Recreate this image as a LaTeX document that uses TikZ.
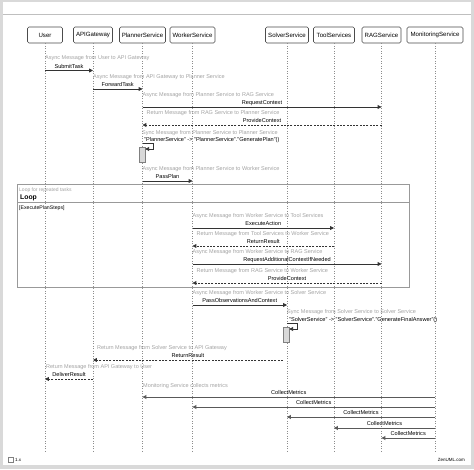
\documentclass[tikz,border=0pt]{standalone}
\usepackage{fontspec}
\setmainfont{Liberation Sans}
\usetikzlibrary{arrows.meta,calc}
\definecolor{cmtgray}{HTML}{A3A3A3}
\tikzset{
 part/.style={draw=black!70, rounded corners=1.5pt, line width=0.6pt, minimum height=16pt, inner xsep=1pt, font=\fontsize{6.1}{7}\selectfont},
 life/.style={draw=black!45, line width=0.5pt, dash pattern=on 1pt off 1.5pt},
 amsg/.style={draw=black!80, line width=0.75pt, -{Triangle[length=3.8pt,width=3.8pt]}},
 rmsg/.style={amsg, dash pattern=on 2pt off 1.3pt},
 cmsg/.style={amsg, draw=black!65, line width=0.9pt},
 lbl/.style={font=\fontsize{5.6}{6}\selectfont, anchor=base, inner sep=0pt, yshift=2.5pt},
 slbl/.style={font=\fontsize{5.6}{6}\selectfont, anchor=base west, inner sep=0pt},
 cmt/.style={font=\fontsize{5.5}{6}\selectfont, text=cmtgray, anchor=base west, inner sep=0pt},
 act/.style={draw=black!50, fill=black!15, inner sep=0pt, minimum width=6pt, minimum height=15pt},
}
\newcommand\seqmsg[9]{%
  \draw[#2] (#3 |- 0,#5) -- node[lbl] (l#1) {#6} (#4 |- 0,#5);
  \node[cmt] (c#1) at ([xshift=#9]#7 |- 0,#5-11) {#8};}
\begin{document}
\begin{tikzpicture}[x=1pt,y=-1pt]
\useasboundingbox (0,0) rectangle (474,469);
\fill[black!15] (0,0) rectangle (474,469);
\fill[white] (3,2) rectangle (471,465);
\draw[black!25, line width=0.5pt] (3,14) -- (471,14);

% loop frame
\draw[black!40, line width=0.5pt] (17,184) rectangle (409,287);
\draw[black!40, line width=0.5pt] (17,202) -- (409,202);
\node[cmt, font=\fontsize{5}{6}\selectfont] (lpc) at (19,191) {Loop for repeated tasks};
\node[slbl, font=\fontsize{6.8}{8}\selectfont\bfseries] (lpt) at (20,199.5) {Loop};
\node[slbl, font=\fontsize{5.2}{6}\selectfont] (lpg) at (19,209) {[ExecutePlanSteps]};

% participants
\node[part, minimum width=35pt] (u) at (45,35) {User};
\node[part, minimum width=39pt] (api) at (93,35) {APIGateway};
\node[part, minimum width=46pt] (pl) at (142.5,35) {PlannerService};
\node[part, minimum width=45pt] (wk) at (192.5,35) {WorkerService};
\node[part, minimum width=43pt] (sv) at (287,35) {SolverService};
\node[part, minimum width=41pt] (tl) at (334,35) {ToolServices};
\node[part, minimum width=39pt] (rag) at (381.5,35) {RAGService};
\node[part, minimum width=56pt] (mon) at (435,35) {MonitoringService};
\foreach \p in {u,api,pl,wk,sv,tl,rag,mon}
  \draw[life] (\p.south) -- (\p |- 0,453);

% messages
\seqmsg{1}{amsg}{u}{api}{70.5}{SubmitTask}{u}{Async Message from User to API Gateway}{0pt}
\seqmsg{2}{amsg}{api}{pl}{89}{ForwardTask}{api}{Async Message from API Gateway to Planner Service}{0pt}
\seqmsg{3}{amsg}{pl}{rag}{107}{RequestContext}{pl}{Async Message from Planner Service to RAG Service}{0pt}
\seqmsg{4}{rmsg}{rag}{pl}{125}{ProvideContext}{pl}{Return Message from RAG Service to Planner Service}{4pt}

% self message planner
\node[act] (act1) at (142,155) {};
\node[cmt] (c5) at (142,134) {Sync Message from Planner Service to Planner Service};
\node[slbl] (l5) at (144,141) {"PlannerService" -> "PlannerService"."GeneratePlan"()};
\draw[amsg] (pl |- 0,143) -- ++(11,0) -- ++(0,6) -- (act1.east |- 0,149);

\seqmsg{6}{amsg}{pl}{wk}{181}{PassPlan}{pl}{Async Message from Planner Service to Worker Service}{0pt}

\seqmsg{7}{amsg}{wk}{tl}{228}{ExecuteAction}{wk}{Async Message from Worker Service to Tool Services}{0pt}
\seqmsg{8}{rmsg}{tl}{wk}{246}{ReturnResult}{wk}{Return Message from Tool Services to Worker Service}{4pt}
\seqmsg{9}{amsg}{wk}{rag}{264}{RequestAdditionalContextIfNeeded}{wk}{Async Message from Worker Service to RAG Service}{0pt}
\seqmsg{10}{rmsg}{rag}{wk}{283}{ProvideContext}{wk}{Return Message from RAG Service to Worker Service}{4pt}

\seqmsg{11}{amsg}{wk}{sv}{305}{PassObservationsAndContext}{wk}{Async Message from Worker Service to Solver Service}{0pt}

% self message solver
\node[act] (act2) at (286,335) {};
\node[cmt] (c12) at (287,313) {Sync Message from Solver Service to Solver Service};
\node[slbl] (l12) at (289,321) {"SolverService" -> "SolverService"."GenerateFinalAnswer"()};
\draw[amsg] (sv |- 0,323) -- ++(10,0) -- ++(0,6) -- (act2.east |- 0,329);

\seqmsg{13}{rmsg}{act2.west}{api}{360}{ReturnResult}{api}{Return Message from Solver Service to API Gateway}{4pt}
\seqmsg{14}{rmsg}{api}{u}{379}{DeliverResult}{u}{Return Message from API Gateway to User}{1pt}

\node[cmt] (c15) at (143,387) {Monitoring Service collects metrics};
\draw[cmsg] (mon |- 0,397) -- node[lbl] (m1) {CollectMetrics} (pl |- 0,397);
\draw[cmsg] (mon |- 0,407) -- node[lbl] (m2) {CollectMetrics} (wk |- 0,407);
\draw[cmsg] (mon |- 0,417) -- node[lbl] (m3) {CollectMetrics} (sv |- 0,417);
\draw[cmsg] (mon |- 0,428) -- node[lbl] (m4) {CollectMetrics} (tl |- 0,428);
\draw[cmsg] (mon |- 0,438) -- node[lbl] (m5) {CollectMetrics} (rag |- 0,438);

% footer
\node[draw=black!50, line width=0.4pt, minimum size=5pt, inner sep=0pt] (chk) at (10.5,460) {};
\node[anchor=west, inner sep=0pt, font=\fontsize{4.5}{5}\selectfont] (ver) at (15,460) {1.x};
\node[anchor=east, inner sep=0pt, font=\fontsize{4.5}{5}\selectfont] (zen) at (465,460) {ZenUML.com};
\end{tikzpicture}
\end{document}
